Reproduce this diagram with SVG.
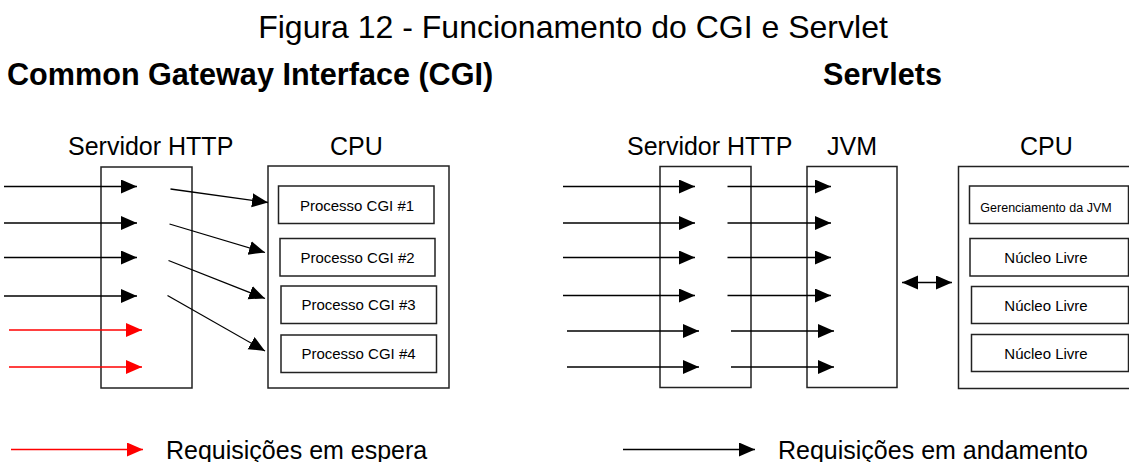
<svg xmlns="http://www.w3.org/2000/svg" width="1129" height="462" viewBox="0 0 1129 462">
<style>
  text { font-family: "Liberation Sans", Arial, sans-serif; fill: #000; }
  .title { font-size: 32px; }
  .head { font-size: 30.6px; font-weight: bold; }
  .lbl { font-size: 25px; }
  .small { font-size: 15px; }
  .tiny { font-size: 12.5px; }
  .box { fill: #fff; stroke: #222; stroke-width: 1.5; }
  .inner { fill: #fff; stroke: #222; stroke-width: 1.5; }
  .blk { fill: none; stroke: #000; stroke-width: 1.3; marker-end: url(#ahB); }
  .red { fill: none; stroke: #ff0000; stroke-width: 1.3; marker-end: url(#ahR); }
</style>
<defs>
  <marker id="ahB" markerUnits="userSpaceOnUse" markerWidth="18" markerHeight="15" refX="16" refY="7" orient="auto">
    <path d="M0,0 L16,7 L0,14 z" fill="#000"/>
  </marker>
  <marker id="ahBs" markerUnits="userSpaceOnUse" markerWidth="18" markerHeight="15" refX="16" refY="7" orient="auto-start-reverse">
    <path d="M0,0 L16,7 L0,14 z" fill="#000"/>
  </marker>
  <marker id="ahR" markerUnits="userSpaceOnUse" markerWidth="18" markerHeight="15" refX="16" refY="7" orient="auto">
    <path d="M0,0 L16,7 L0,14 z" fill="#ff0000"/>
  </marker>
</defs>
<rect width="1129" height="462" fill="#fff"/>

<text class="title" x="573" y="38" text-anchor="middle">Figura 12 - Funcionamento do CGI e Servlet</text>
<text class="head" x="7" y="85">Common Gateway Interface (CGI)</text>
<text class="head" x="823" y="85">Servlets</text>

<!-- Left side: CGI -->
<g id="cgi-http">
  <text class="lbl" x="68" y="155">Servidor HTTP</text>
  <rect class="box" x="101" y="167" width="91" height="221"/>
</g>
<g id="cgi-cpu">
  <text class="lbl" x="330" y="155">CPU</text>
  <rect class="box" x="268" y="166" width="181" height="222"/>
</g>
<g id="cgi-proc1">
  <rect class="inner" x="278.5" y="186" width="155.5" height="37.5"/>
  <text class="small" x="357" y="211" text-anchor="middle">Processo CGI #1</text>
</g>
<g id="cgi-proc2">
  <rect class="inner" x="280" y="238.5" width="155" height="37.5"/>
  <text class="small" x="357.5" y="262.5" text-anchor="middle">Processo CGI #2</text>
</g>
<g id="cgi-proc3">
  <rect class="inner" x="281" y="286" width="155.5" height="37.5"/>
  <text class="small" x="358.5" y="310" text-anchor="middle">Processo CGI #3</text>
</g>
<g id="cgi-proc4">
  <rect class="inner" x="281" y="335" width="155.5" height="37.5"/>
  <text class="small" x="358.5" y="359" text-anchor="middle">Processo CGI #4</text>
</g>

<!-- Right side: Servlets -->
<g id="srv-http">
  <text class="lbl" x="627" y="155">Servidor HTTP</text>
  <rect class="box" x="660" y="166.5" width="91" height="221"/>
</g>
<g id="srv-jvm">
  <text class="lbl" x="827" y="155">JVM</text>
  <rect class="box" x="807" y="166.5" width="90" height="221"/>
</g>
<g id="srv-cpu">
  <text class="lbl" x="1020" y="155">CPU</text>
  <rect class="box" x="958.5" y="166.5" width="180" height="222"/>
</g>
<g id="srv-jvmmgmt">
  <rect class="inner" x="969.5" y="186" width="159" height="37.5"/>
  <text class="tiny" x="1046" y="211.5" text-anchor="middle">Gerenciamento da JVM</text>
</g>
<g id="srv-core1">
  <rect class="inner" x="970" y="238.5" width="158.5" height="37.5"/>
  <text class="small" x="1046" y="262.5" text-anchor="middle">Núcleo Livre</text>
</g>
<g id="srv-core2">
  <rect class="inner" x="971.5" y="286.5" width="157" height="37"/>
  <text class="small" x="1046" y="310.5" text-anchor="middle">Núcleo Livre</text>
</g>
<g id="srv-core3">
  <rect class="inner" x="971.5" y="334.5" width="157" height="37"/>
  <text class="small" x="1046" y="358.5" text-anchor="middle">Núcleo Livre</text>
</g>

<!-- Legend -->
<g id="legend-wait">
  <line class="red" x1="11" y1="449.5" x2="143" y2="449.5"/>
  <text class="lbl" x="166" y="458.5">Requisições em espera</text>
</g>
<g id="legend-run">
  <line class="blk" x1="623" y1="449.5" x2="755" y2="449.5"/>
  <text class="lbl" x="778" y="458.5">Requisições em andamento</text>
</g>

<g id="connectors">
  <!-- CGI incoming -->
  <line class="blk" x1="4" y1="186.5" x2="137" y2="186.5"/>
  <line class="blk" x1="4" y1="223" x2="137" y2="223"/>
  <line class="blk" x1="4" y1="257.5" x2="137" y2="257.5"/>
  <line class="blk" x1="4" y1="296" x2="137" y2="296"/>
  <line class="red" x1="9" y1="330" x2="142" y2="330"/>
  <line class="red" x1="9" y1="367" x2="142" y2="367"/>
  <!-- CGI to processes -->
  <line class="blk" x1="170.5" y1="189" x2="268" y2="202.5"/>
  <line class="blk" x1="169.5" y1="224" x2="265" y2="252.5"/>
  <line class="blk" x1="168.5" y1="260.5" x2="265" y2="298.5"/>
  <line class="blk" x1="167.5" y1="295.5" x2="265" y2="351"/>
  <!-- Servlet incoming -->
  <line class="blk" x1="563" y1="186.5" x2="695" y2="186.5"/>
  <line class="blk" x1="563" y1="223" x2="695" y2="223"/>
  <line class="blk" x1="563" y1="257.5" x2="695" y2="257.5"/>
  <line class="blk" x1="563" y1="295.5" x2="695" y2="295.5"/>
  <line class="blk" x1="567" y1="331" x2="699" y2="331"/>
  <line class="blk" x1="567" y1="367" x2="699" y2="367"/>
  <!-- HTTP to JVM -->
  <line class="blk" x1="727.5" y1="186.5" x2="831" y2="186.5"/>
  <line class="blk" x1="727.5" y1="223" x2="831" y2="223"/>
  <line class="blk" x1="727.5" y1="257.5" x2="831" y2="257.5"/>
  <line class="blk" x1="727.5" y1="295.5" x2="831" y2="295.5"/>
  <line class="blk" x1="731" y1="331" x2="834" y2="331"/>
  <line class="blk" x1="731" y1="367" x2="834" y2="367"/>
  <!-- JVM <-> CPU -->
  <line x1="902" y1="282.5" x2="952" y2="282.5" stroke="#000" stroke-width="1.3" marker-start="url(#ahBs)" marker-end="url(#ahB)"/>
</g>
</svg>
